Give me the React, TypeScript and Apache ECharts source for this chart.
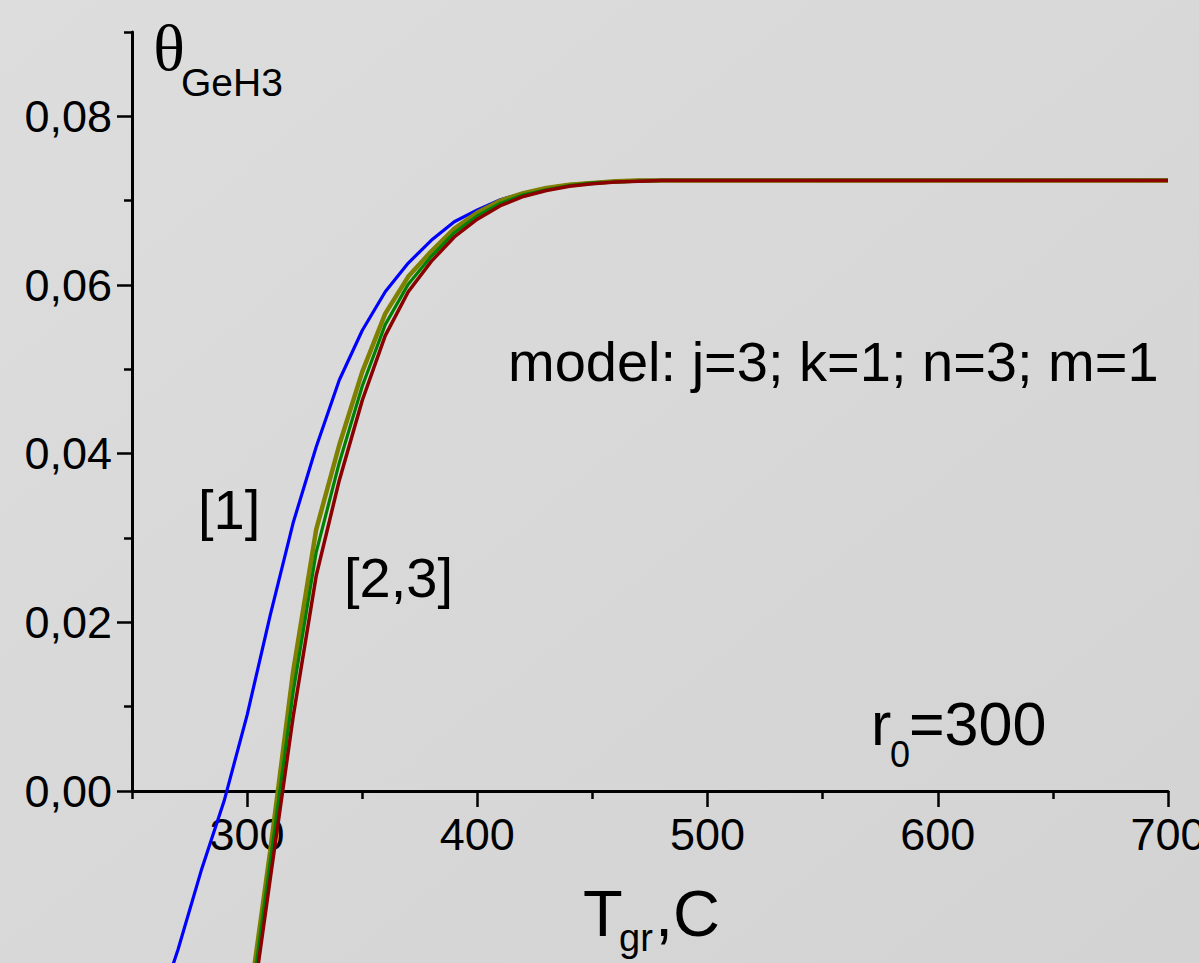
import React, { useEffect, useRef } from "react";
import * as echarts from "echarts";

// Temperatures (°C) at which the curves are sampled
const temps = [260, 270, 280, 290, 300, 310, 320, 330, 340, 350, 360, 370, 380, 390, 400, 410, 420, 430, 440, 450, 460, 470, 480, 500, 550, 600, 650, 700];

// θ_GeH3 values
const curve1Blue = [-0.027, -0.0188, -0.0095, -0.0012, 0.009, 0.0208, 0.0318, 0.0408, 0.0487, 0.0546, 0.0592, 0.0626, 0.0653, 0.0675, 0.0689, 0.0701, 0.0709, 0.0715, 0.0719, 0.0721, 0.0723, 0.0724, 0.0724, 0.0724, 0.0724, 0.0724, 0.0724, 0.0724];
const curveOlive = [null, null, null, null, -0.027, -0.0072, 0.0142, 0.031, 0.041, 0.0497, 0.0566, 0.061, 0.064, 0.0667, 0.0686, 0.07, 0.0709, 0.0715, 0.0719, 0.0721, 0.0723, 0.0724, 0.0724, 0.0724, 0.0724, 0.0724, 0.0724, 0.0724];
const curveGreen = [null, null, null, null, -0.0285, -0.0085, 0.0117, 0.0283, 0.0389, 0.048, 0.0553, 0.0601, 0.0634, 0.0662, 0.0682, 0.0697, 0.0707, 0.0713, 0.0718, 0.0721, 0.0722, 0.0723, 0.0724, 0.0724, 0.0724, 0.0724, 0.0724, 0.0724];
const curveRed = [null, null, null, null, -0.03, -0.0105, 0.0088, 0.0255, 0.0368, 0.0463, 0.054, 0.0592, 0.0628, 0.0657, 0.0678, 0.0694, 0.0705, 0.0712, 0.0717, 0.072, 0.0722, 0.0723, 0.0724, 0.0724, 0.0724, 0.0724, 0.0724, 0.0724];

// Axis ticks / labels
const xMajorTicks = [300, 400, 500, 600, 700];
const xMinorTicks = [250, 350, 450, 550, 650];
const yMajorTicks = [0, 0.02, 0.04, 0.06, 0.08];
const yMinorTicks = [0.01, 0.03, 0.05, 0.07, 0.09];

const X_MIN = 250;
const X_MAX = 700;
const Y_MIN = 0;
const Y_MAX = 0.09;

const W = 1199;
const H = 963;
const GRID_LEFT = 132;
const GRID_RIGHT = 31;
const GRID_TOP = 32;
const GRID_BOTTOM = 172;

const FONT = "'Liberation Sans', Arial, sans-serif";

function pairs(vals: (number | null)[]) {
  return temps.map((t, i) => [t, vals[i]]);
}

export default function App() {
  const ref = useRef<HTMLDivElement>(null);

  useEffect(() => {
    if (!ref.current) return;
    const chart = echarts.init(ref.current, null, { renderer: "svg" });
    const plotH = H - GRID_TOP - GRID_BOTTOM;
    const plotYMin = -Y_MAX * GRID_BOTTOM / plotH;

    const axisLine = { show: true, lineStyle: { color: "#000", width: 3 } };

    const txt = (x: number, y: number, text: string, size: number, family = FONT, align = "left") => ({
      type: "text",
      x,
      y,
      silent: true,
      style: {
        text,
        fill: "#000",
        font: `${size}px ${family}`,
        align,
        verticalAlign: "middle",
      },
    });

    chart.setOption({
      animation: false,
      backgroundColor: {
        type: "linear",
        x: 0, y: 0, x2: 1, y2: 1,
        colorStops: [
          { offset: 0, color: "#dddddd" },
          { offset: 1, color: "#d3d3d3" },
        ],
      },
      grid: [
        { left: GRID_LEFT, right: GRID_RIGHT, top: GRID_TOP, bottom: GRID_BOTTOM, containLabel: false, outerBoundsMode: "none" },
        { left: GRID_LEFT, right: GRID_RIGHT, top: GRID_TOP, bottom: 0, containLabel: false, outerBoundsMode: "none" },
      ],
      xAxis: [
        {
          type: "value", gridIndex: 0, position: "bottom", min: X_MIN, max: X_MAX,
          axisLine,
          splitLine: { show: false },
          axisTick: { show: true, length: 16, customValues: xMajorTicks, lineStyle: { color: "#000", width: 2.5 } },
          axisLabel: {
            show: true, customValues: xMajorTicks, margin: 21,
            color: "#000", fontSize: 45, fontFamily: FONT,
          },
        },
        {
          type: "value", gridIndex: 0, position: "bottom", min: X_MIN, max: X_MAX,
          axisLine: { show: false },
          splitLine: { show: false },
          axisTick: { show: true, length: 8, customValues: xMinorTicks, lineStyle: { color: "#000", width: 2.5 } },
          axisLabel: { show: false },
        },
        {
          type: "value", gridIndex: 1, min: X_MIN, max: X_MAX, show: false,
        },
      ],
      yAxis: [
        {
          type: "value", gridIndex: 0, position: "left", min: Y_MIN, max: Y_MAX,
          axisLine,
          splitLine: { show: false },
          axisTick: { show: true, length: 15, customValues: yMajorTicks, lineStyle: { color: "#000", width: 2.5 } },
          axisLabel: {
            show: true, customValues: yMajorTicks, margin: 20,
            color: "#000", fontSize: 45, fontFamily: FONT,
            formatter: (v: number) => v.toFixed(2).replace(".", ","),
          },
        },
        {
          type: "value", gridIndex: 0, position: "left", min: Y_MIN, max: Y_MAX,
          axisLine: { show: false },
          splitLine: { show: false },
          axisTick: { show: true, length: 8, customValues: yMinorTicks, lineStyle: { color: "#000", width: 2.5 } },
          axisLabel: { show: false },
        },
        {
          type: "value", gridIndex: 1, min: plotYMin, max: Y_MAX, show: false,
        },
      ],
      series: [
        { type: "line", xAxisIndex: 2, yAxisIndex: 2, data: pairs(curve1Blue), showSymbol: false, symbol: "none", lineStyle: { color: "#0000ff", width: 3.2 }, clip: true, z: 2 },
        { type: "line", xAxisIndex: 2, yAxisIndex: 2, data: pairs(curveOlive), showSymbol: false, symbol: "none", lineStyle: { color: "#808000", width: 4.5 }, clip: true, z: 3 },
        { type: "line", xAxisIndex: 2, yAxisIndex: 2, data: pairs(curveGreen), showSymbol: false, symbol: "none", lineStyle: { color: "#008000", width: 3.2 }, clip: true, z: 4 },
        { type: "line", xAxisIndex: 2, yAxisIndex: 2, data: pairs(curveRed), showSymbol: false, symbol: "none", lineStyle: { color: "#8b0000", width: 3.5 }, clip: true, z: 5 },
      ],
      graphic: [
        txt(169, 47, "θ", 66, "'Liberation Serif', 'Times New Roman', serif", "center"),
        txt(181, 82, "GeH3", 39),
        txt(508, 361, "model: j=3; k=1; n=3; m=1", 56),
        txt(198, 509, "[1]", 56),
        txt(344, 577, "[2,3]", 56),
        txt(871, 724, "r", 61),
        txt(890, 754, "0", 36),
        txt(909, 724, "=300", 61),
        txt(583, 913, "T", 65),
        txt(619, 938, "gr", 38),
        txt(655, 913, ",C", 65),
      ],
    });

    return () => chart.dispose();
  }, []);

  return (
    <div
      ref={ref}
      style={{ position: "fixed", left: 0, top: 0, width: W, height: H }}
    />
  );
}
